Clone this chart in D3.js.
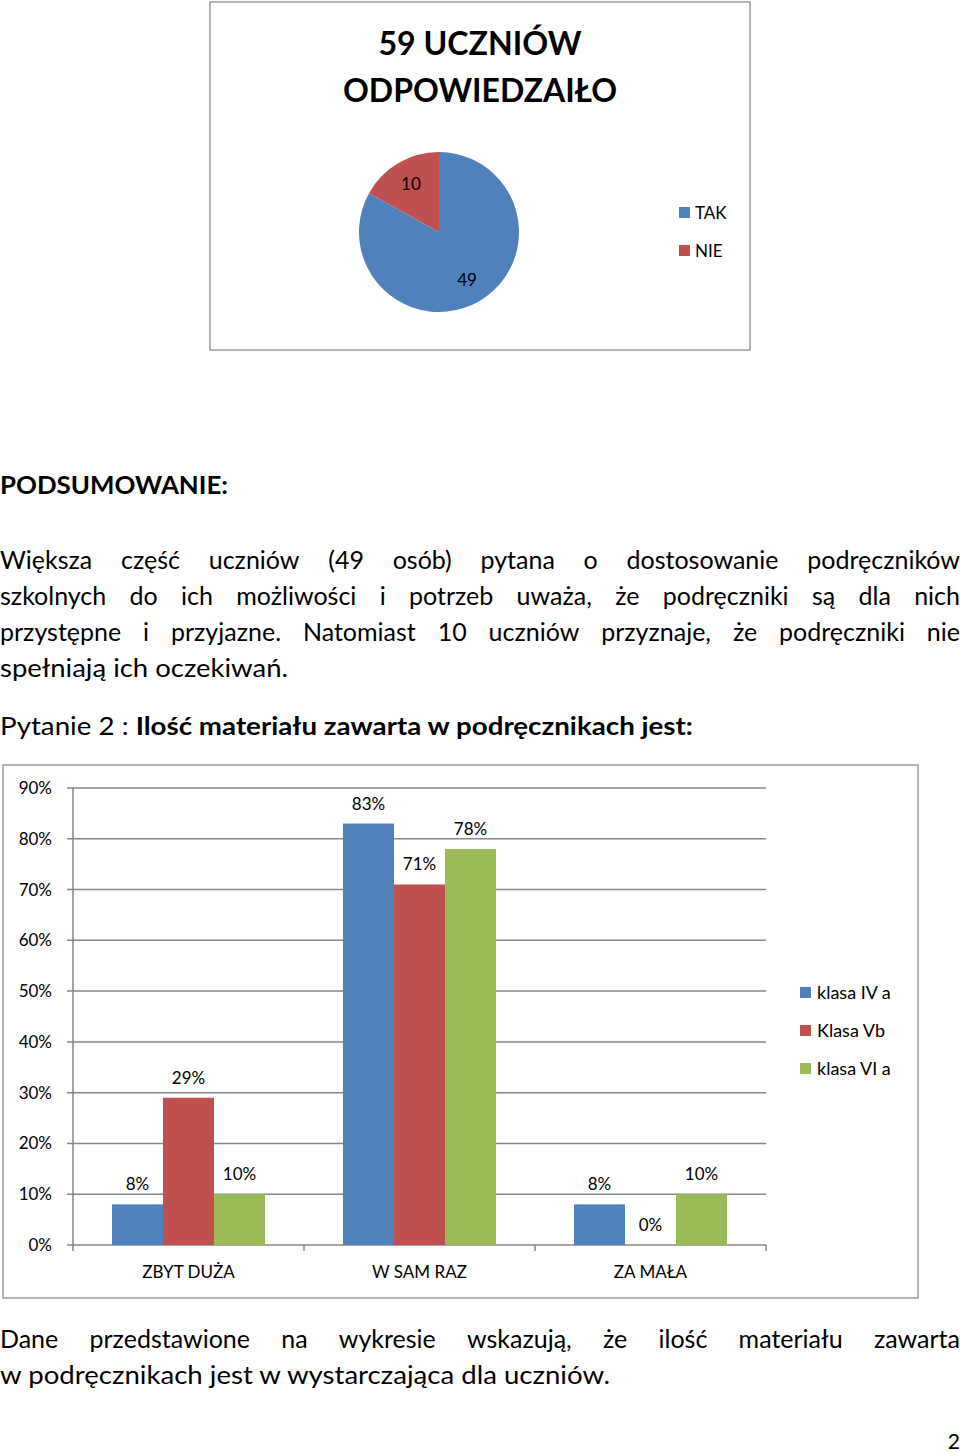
<!DOCTYPE html>
<html><head><meta charset="utf-8">
<script src="https://cdn.jsdelivr.net/npm/d3@7"></script>
<style>
html,body{margin:0;padding:0;background:#fff;}
svg{display:block;}
text{font-family:Lato,"Open Sans",sans-serif;fill:#000;}
</style></head>
<body>
<svg id="page" width="960" height="1452"></svg>
<script>
// ---- Pie data ----
const pieLabels = ["TAK", "NIE"];
const pieValues = [49, 10];
const pieColors = ["#4F81BD", "#C0504D"];
const pieTitle = ["59 UCZNIÓW", "ODPOWIEDZAIŁO"];

// ---- Bar data ----
const categories = ["ZBYT DUŻA", "W SAM RAZ", "ZA MAŁA"];
const seriesNames = ["klasa IV a", "Klasa Vb", "klasa VI a"];
const seriesColors = ["#4F81BD", "#C0504D", "#9BBB59"];
const klasaIVa = [8, 83, 8];
const klasaVb = [29, 71, 0];
const klasaVIa = [10, 78, 10];
const yTicks = [0, 10, 20, 30, 40, 50, 60, 70, 80, 90];

// ---- Text ----
const summaryHead = "PODSUMOWANIE:";
const summaryLines = [
  "Większa część uczniów (49 osób) pytana o dostosowanie podręczników",
  "szkolnych do ich możliwości i potrzeb uważa, że podręczniki są dla nich",
  "przystępne i przyjazne. Natomiast 10 uczniów przyznaje, że podręczniki nie",
  "spełniają ich oczekiwań."
];
const questionPrefix = "Pytanie 2 : ";
const questionBold = "Ilość materiału zawarta w podręcznikach jest:";
const conclusionLines = [
  "Dane przedstawione na wykresie wskazują, że ilość materiału zawarta",
  "w podręcznikach jest w wystarczająca dla uczniów."
];
const pageNumber = "2";

const svg = d3.select("#page");

function fit(sel, w) {
  const cur = sel.node().getComputedTextLength();
  if (Math.abs(cur - w) > 1) sel.attr("textLength", w).attr("lengthAdjust", "spacingAndGlyphs");
}

// ===== Pie chart box =====
svg.append("rect").attr("x", 210).attr("y", 2).attr("width", 540).attr("height", 348)
  .attr("fill", "#fff").attr("stroke", "#9a9a9a").attr("stroke-width", 1.5);

const t1 = svg.append("text").attr("x", 480).attr("y", 55).attr("text-anchor", "middle")
  .attr("font-size", 33).attr("font-weight", "bold").text(pieTitle[0]);
fit(t1, 203);
const t2 = svg.append("text").attr("x", 480).attr("y", 102).attr("text-anchor", "middle")
  .attr("font-size", 33).attr("font-weight", "bold").text(pieTitle[1]);
fit(t2, 274);

const R = 80;
const pieG = svg.append("g").attr("transform", "translate(439,232)");
const pie = d3.pie().sort(null).value(d => d)(pieValues);
const arc = d3.arc().innerRadius(0).outerRadius(R);
const labelArc = d3.arc().innerRadius(R * 0.69).outerRadius(R * 0.69);
pieG.selectAll("path").data(pie).join("path")
  .attr("d", arc).attr("fill", (d, i) => pieColors[i]);
pieG.selectAll("text").data(pie).join("text")
  .attr("transform", d => `translate(${labelArc.centroid(d)})`)
  .attr("text-anchor", "middle").attr("dy", "0.35em")
  .attr("font-size", 17).text(d => d.data);

const pl = svg.append("g");
pieLabels.forEach((l, i) => {
  const y = 207 + i * 38;
  pl.append("rect").attr("x", 679).attr("y", y).attr("width", 11).attr("height", 11).attr("fill", pieColors[i]);
  pl.append("text").attr("x", 695).attr("y", y + 12).attr("font-size", 17).text(l);
});

// ===== Text blocks =====
function justify(words, y, size, weight) {
  const t = svg.append("text").attr("y", y).attr("font-size", size).attr("font-weight", weight || "normal");
  const spans = words.map(w => t.append("tspan").text(w));
  const widths = spans.map(s => s.node().getComputedTextLength());
  const total = widths.reduce((a, b) => a + b, 0);
  const gap = (960 - total) / (words.length - 1);
  let x = 0;
  spans.forEach((s, i) => { s.attr("x", x); x += widths[i] + gap; });
}
function plain(str, y, size, w, weight) {
  const t = svg.append("text").attr("x", 0).attr("y", y).attr("font-size", size)
    .attr("font-weight", weight || "normal").text(str);
  if (w) fit(t, w);
  return t;
}

plain(summaryHead, 494, 25, 228, "bold");
const lineY = [569, 605, 641, 677];
summaryLines.forEach((l, i) => {
  if (i < summaryLines.length - 1) justify(l.split(" "), lineY[i], 25);
  else plain(l, lineY[i], 25, 288);
});

const q = svg.append("text").attr("x", 0).attr("y", 735).attr("font-size", 25);
q.append("tspan").text(questionPrefix);
q.append("tspan").attr("font-weight", "bold").text(questionBold);
fit(q, 693);

justify(conclusionLines[0].split(" "), 1348, 25);
plain(conclusionLines[1], 1384, 25, 610);

svg.append("text").attr("x", 960).attr("y", 1449).attr("text-anchor", "end")
  .attr("font-size", 21).text(pageNumber);

// ===== Bar chart =====
svg.append("rect").attr("x", 3).attr("y", 765).attr("width", 915).attr("height", 533)
  .attr("fill", "#fff").attr("stroke", "#9a9a9a").attr("stroke-width", 1.5);

const x0 = 73, x1 = 766, yBottom = 1245, yTop = 788;
const y = d3.scaleLinear().domain([0, 90]).range([yBottom, yTop]);
const xc = d3.scaleBand().domain(categories).range([x0, x1]).paddingInner(0).paddingOuter(0);
const xs = d3.scaleBand().domain(seriesNames).range([0, xc.bandwidth()])
  .paddingInner(0).paddingOuter((xc.bandwidth() / 51 - 3) / 2);

const grid = svg.append("g");
grid.selectAll("line").data(yTicks).join("line")
  .attr("x1", x0 - 6).attr("x2", x1).attr("y1", d => y(d)).attr("y2", d => y(d))
  .attr("stroke", "#868686").attr("stroke-width", 1.5);
svg.append("g").selectAll("text").data(yTicks).join("text")
  .attr("x", 52).attr("y", d => y(d)).attr("dy", "0.35em").attr("text-anchor", "end")
  .attr("font-size", 17).text(d => d + "%");
// y axis line
svg.append("line").attr("x1", x0).attr("x2", x0).attr("y1", yTop).attr("y2", yBottom + 6)
  .attr("stroke", "#868686").attr("stroke-width", 1.5);
// category ticks
svg.append("g").selectAll("line").data(categories).join("line")
  .attr("x1", d => xc(d) + xc.bandwidth()).attr("x2", d => xc(d) + xc.bandwidth())
  .attr("y1", yBottom).attr("y2", yBottom + 6)
  .attr("stroke", "#868686").attr("stroke-width", 1.5);

const seriesData = [klasaIVa, klasaVb, klasaVIa];
const barsG = svg.append("g");
categories.forEach((c, ci) => {
  seriesNames.forEach((s, si) => {
    const v = seriesData[si][ci];
    const bx = xc(c) + xs(s);
    barsG.append("rect").attr("x", bx).attr("y", y(v)).attr("width", xs.bandwidth())
      .attr("height", yBottom - y(v)).attr("fill", seriesColors[si]);
    barsG.append("text").attr("x", bx + xs.bandwidth() / 2).attr("y", y(v) - 14)
      .attr("text-anchor", "middle").attr("font-size", 17).text(v + "%");
  });
});
svg.append("g").selectAll("text").data(categories).join("text")
  .attr("x", d => xc(d) + xc.bandwidth() / 2).attr("y", 1272).attr("dy", "0.35em")
  .attr("text-anchor", "middle").attr("font-size", 17).text(d => d);

const lg = svg.append("g");
seriesNames.forEach((s, i) => {
  const yy = 987 + i * 38;
  lg.append("rect").attr("x", 800).attr("y", yy).attr("width", 11).attr("height", 11).attr("fill", seriesColors[i]);
  lg.append("text").attr("x", 817).attr("y", yy + 12).attr("font-size", 18).text(s);
});
</script>
</body></html>
